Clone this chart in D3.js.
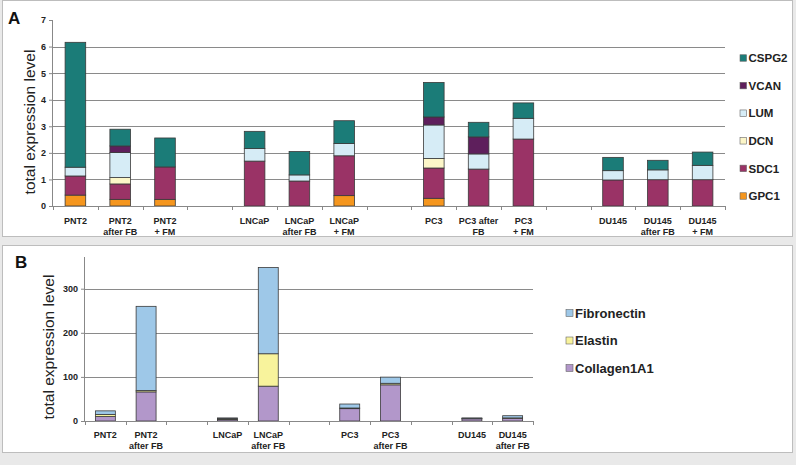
<!DOCTYPE html>
<html><head><meta charset="utf-8">
<script src="https://cdn.jsdelivr.net/npm/d3@7"></script>
<style>body{margin:0;background:#fff}svg{display:block;font-family:Arial,"Liberation Sans",sans-serif}</style>
</head><body><svg id="c" width="796" height="465"></svg>
<script>
// ---------- Panel A data ----------
const catsA = ["PNT2","PNT2|after FB","PNT2|+ FM","gapA1","LNCaP","LNCaP|after FB","LNCaP|+ FM","gapA2","PC3","PC3 after|FB","PC3|+ FM","gapA3","DU145","DU145|after FB","DU145|+ FM"];
const seriesA = ["GPC1","SDC1","DCN","LUM","VCAN","CSPG2"];
const GPC1  = [0.41,0.25,0.25,null,0,   0,   0.39,null,0.29,0,   0,   null,0,   0,   0];
const SDC1  = [0.72,0.58,1.22,null,1.69,0.94,1.50,null,1.14,1.39,2.52,null,0.98,0.99,0.99];
const DCN   = [0,   0.24,0,   null,0,   0,   0,   null,0.36,0,   0,   null,0,   0,   0];
const LUM   = [0.33,0.94,0,   null,0.47,0.23,0.46,null,1.26,0.57,0.78,null,0.35,0.37,0.54];
const VCAN  = [0,   0.25,0,   null,0,   0,   0,   null,0.30,0.64,0,   null,0,   0,   0];
const CSPG2 = [4.70,0.63,1.09,null,0.65,0.88,0.86,null,1.30,0.55,0.58,null,0.50,0.36,0.50];
const ticksA = [0,1,2,3,4,5,6,7];
const colorsA = {GPC1:"#f5961e",SDC1:"#9a3366",DCN:"#fcf6c8",LUM:"#d6ecf6",VCAN:"#5e1f5c",CSPG2:"#1b7c78"};

// ---------- Panel B data ----------
const catsB = ["PNT2","PNT2|after FB","gapB1","LNCaP","LNCaP|after FB","gapB2","PC3","PC3|after FB","gapB3","DU145","DU145|after FB"];
const seriesB = ["Collagen1A1","Elastin","Fibronectin"];
const Collagen1A1 = [10, 66, null, 3, 79,   null, 28, 82, null, 5, 6];
const Elastin     = [5,  3,  null, 2, 73.5, null, 1.5,3.5,null, 1, 1];
const Fibronectin = [8,  191,null, 2, 195.5,null, 9,  14, null, 1, 5];
const ticksB = [0,100,200,300];
const colorsB = {Collagen1A1:"#b297ca",Elastin:"#f8f39c",Fibronectin:"#9ec8e8"};

const svg = d3.select("#c");
// frame
svg.append("rect").attr("width",796).attr("height",465).attr("fill","#e9e9e9");
svg.append("rect").attr("x",2.5).attr("y",0.5).attr("width",790).attr("height",236).attr("fill","#fff").attr("stroke","#bdbdbd");
svg.append("rect").attr("x",2.5).attr("y",245.5).attr("width",790).attr("height",207).attr("fill","#fff").attr("stroke","#bdbdbd");

function panel(opt){
  const g = svg.append("g");
  const x = d3.scaleBand().domain(opt.cats).range([opt.x0,opt.x1]).paddingInner(0).paddingOuter(0);
  const y = d3.scaleLinear().domain([0,opt.ymax]).range([opt.y0,opt.ytop]);
  // gridlines
  g.selectAll("line.grid").data(opt.grid).join("line")
    .attr("x1",opt.x0).attr("x2",opt.x1)
    .attr("y1",d=>Math.round(y(d))+0.5).attr("y2",d=>Math.round(y(d))+0.5)
    .attr("stroke","#8a8a8a").attr("stroke-width",1);
  // stacked bars
  const rows = opt.cats.map((c,i)=>{const r={cat:c}; opt.series.forEach(s=>r[s]=opt.vals[s][i]||0); return r;});
  const stack = d3.stack().keys(opt.series)(rows);
  const bw = x.bandwidth()*opt.barFrac;
  stack.forEach(layer=>{
    g.selectAll(null).data(layer.filter(d=>!d.data.cat.startsWith("gap") && d[1]-d[0]>0)).join("rect")
      .attr("x",d=>x(d.data.cat)+(x.bandwidth()-bw)/2)
      .attr("width",bw)
      .attr("y",d=>y(d[1]))
      .attr("height",d=>y(d[0])-y(d[1]))
      .attr("fill",opt.colors[layer.key])
      .attr("stroke","#3a3a3a").attr("stroke-width",0.8);
  });
  // y axis
  const ya = g.append("g").attr("transform",`translate(${opt.x0},0)`)
    .call(d3.axisLeft(y).tickValues(opt.ticks).tickSize(4).tickFormat(d3.format("d")));
  ya.select(".domain").attr("stroke","#888").attr("d",`M-0.5,${opt.y0}V${opt.axTop}`);
  ya.selectAll(".tick line").attr("stroke","#888");
  ya.selectAll("text").attr("font-size",9).attr("font-weight","bold").attr("fill","#222").attr("x",-7);
  // x axis
  const xa = g.append("g").attr("transform",`translate(0,${opt.y0})`);
  xa.append("line").attr("x1",opt.x0).attr("x2",opt.x1).attr("y1",0.5).attr("y2",0.5).attr("stroke","#888");
  const bounds = opt.cats.map(c=>x(c)).concat([opt.x1]);
  xa.selectAll("line.t").data(bounds).join("line").attr("class","t")
    .attr("x1",d=>Math.round(d)+0.5).attr("x2",d=>Math.round(d)+0.5).attr("y1",0).attr("y2",4).attr("stroke","#888");
  opt.cats.forEach(c=>{
    if(c.startsWith("gap")) return;
    const lines = c.split("|");
    const t = xa.append("text").attr("text-anchor","middle").attr("font-size",9).attr("font-weight","bold").attr("fill","#222");
    lines.forEach((l,i)=>t.append("tspan").attr("x",x(c)+x.bandwidth()/2).attr("y",opt.lab1+i*opt.labGap).text(l));
  });
  // y title
  g.append("text").attr("transform",`translate(${opt.titleX},${opt.titleY}) rotate(-90)`)
    .attr("text-anchor","middle").attr("font-size",15.5).attr("fill","#222").text("total expression level");
  // panel letter
  g.append("text").attr("x",opt.letX).attr("y",opt.letY).attr("font-size",17).attr("font-weight","bold").attr("fill","#111").text(opt.letter);
  // legend
  const legItems = opt.series.slice().reverse();
  legItems.forEach((s,i)=>{
    const ly = opt.legY + i*opt.legGap;
    g.append("rect").attr("x",opt.legX).attr("y",ly-opt.legSq/2).attr("width",opt.legSq).attr("height",opt.legSq)
      .attr("fill",opt.colors[s]).attr("stroke","#666").attr("stroke-width",0.6);
    g.append("text").attr("x",opt.legX+opt.legSq+2).attr("y",ly).attr("dy","0.36em")
      .attr("font-size",opt.legFont).attr("font-weight","bold").attr("fill","#222").text(s);
  });
}

panel({cats:catsA, series:seriesA, vals:{GPC1,SDC1,DCN,LUM,VCAN,CSPG2}, colors:colorsA,
  x0:53, x1:725, y0:206, ytop:20, axTop:20, ymax:7, ticks:ticksA, grid:[1,2,3,4,5,6], barFrac:0.46,
  lab1:18, labGap:10.5, titleX:35, titleY:122, letter:"A", letX:8, letY:24,
  legX:740, legY:58, legGap:27.6, legSq:6.5, legFont:11.5});

panel({cats:catsB, series:seriesB, vals:{Collagen1A1,Elastin,Fibronectin}, colors:colorsB,
  x0:85, x1:533, y0:421, ytop:421-371*0.441, axTop:257, ymax:371, ticks:ticksB, grid:[100,200,300], barFrac:0.49,
  lab1:17, labGap:10.5, titleX:54, titleY:347, letter:"B", letX:15, letY:268,
  legX:566, legY:313, legGap:27.5, legSq:7, legFont:13});
</script></body></html>
